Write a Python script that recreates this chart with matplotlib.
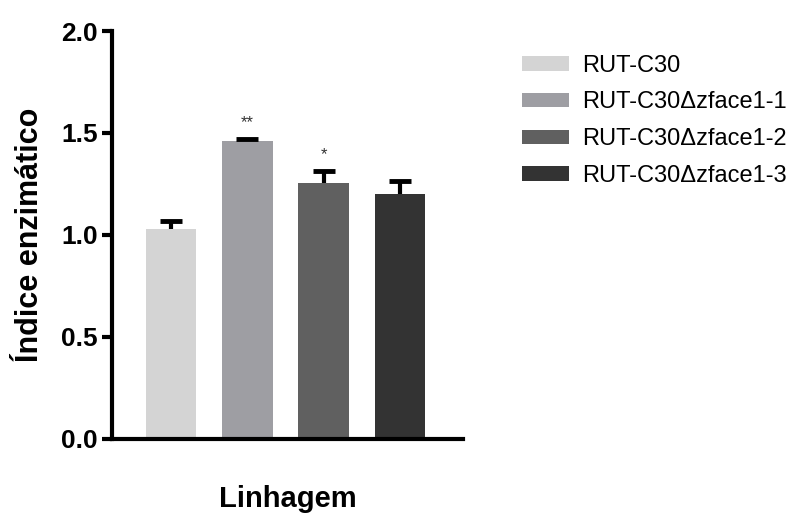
"""Índice enzimático das linhagens RUT-C30 e mutantes Δzface1."""

import matplotlib.pyplot as plt

plt.rcParams["font.family"] = ["Liberation Sans", "DejaVu Sans"]

linhagens = ["RUT-C30", "RUT-C30Δzface1-1", "RUT-C30Δzface1-2", "RUT-C30Δzface1-3"]
indice = [1.03, 1.462, 1.257, 1.203]
erro = [0.04, 0.008, 0.058, 0.063]
significancia = ["", "**", "*", ""]
cores = ["#d4d4d4", "#9e9ea3", "#606060", "#333333"]


def main():
    fig = plt.figure(figsize=(8, 5.17), dpi=100)
    ax = fig.add_axes([0.14, 0.151, 0.439, 0.789])

    posicoes = list(range(len(linhagens)))
    barras = ax.bar(posicoes, indice, width=0.66, color=cores, label=linhagens, zorder=2)
    # só a metade superior do erro, como no GraphPad
    _, caps, _ = ax.errorbar(posicoes, indice, yerr=[[0] * len(erro), erro], fmt="none",
                             ecolor="black", elinewidth=3, capsize=8, capthick=3.5,
                             zorder=3)
    caps[0].set_visible(False)

    for x, y, e, s in zip(posicoes, indice, erro, significancia):
        if s:
            ax.text(x, y + e + 0.08, s, ha="center", va="center",
                    fontsize=12, color="#333333")

    ax.set_xlim(-0.78, 3.835)
    ax.set_ylim(0, 2.0)
    ax.set_yticks([0.0, 0.5, 1.0, 1.5, 2.0])
    ax.set_yticklabels(["0.0", "0.5", "1.0", "1.5", "2.0"])
    ax.set_xticks([])
    for lado in ["top", "right"]:
        ax.spines[lado].set_visible(False)
    for lado in ["left", "bottom"]:
        ax.spines[lado].set_linewidth(3)
    ax.tick_params(axis="y", width=3, length=7, labelsize=19, pad=3)
    for rotulo in ax.get_yticklabels():
        rotulo.set_fontweight("bold")

    ax.set_ylabel("Índice enzimático", fontsize=22, fontweight="bold", labelpad=12)
    ax.set_xlabel("Linhagem", fontsize=21, fontweight="bold", labelpad=33)

    fig.legend(handles=barras, labels=linhagens, loc="upper left",
               bbox_to_anchor=(0.626, 0.935), frameon=False, fontsize=17,
               handlelength=2.0, handleheight=0.55, handletextpad=0.55,
               labelspacing=0.62)

    fig.savefig("out.png", dpi=100)
    plt.close(fig)


if __name__ == "__main__":
    main()
